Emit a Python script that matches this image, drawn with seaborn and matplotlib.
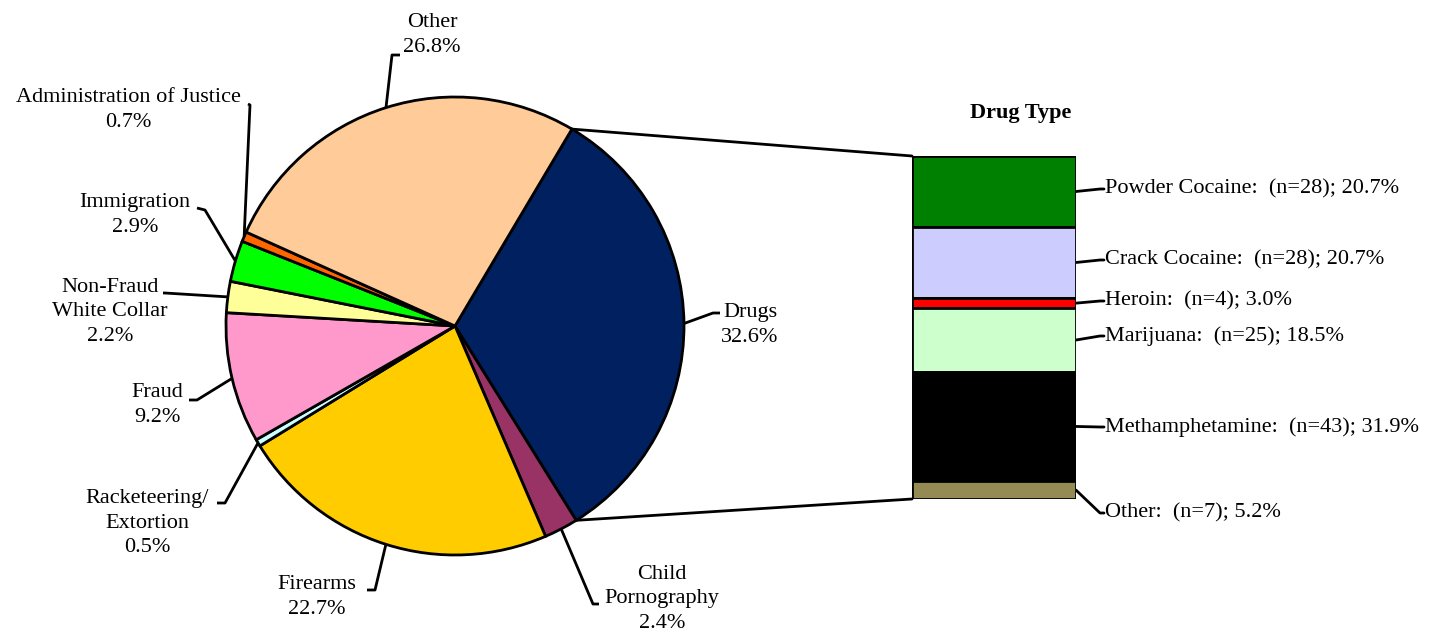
import numpy as np
import seaborn as sns
import matplotlib.pyplot as plt
from matplotlib.patches import ConnectionPatch

# offense types (clockwise from Drugs)
offense_names = ["Drugs", "Child\nPornography", "Firearms", "Racketeering/\nExtortion", "Fraud",
                 "Non-Fraud\nWhite Collar", "Immigration", "Administration of Justice", "Other"]
offense_pct = [32.6, 2.4, 22.7, 0.5, 9.2, 2.2, 2.9, 0.7, 26.8]
offense_colors = ["#002060", "#993366", "#FFCC00", "#CCFFFF", "#FF99CC",
                  "#FFFF99", "#00FF00", "#FF6600", "#FFCC99"]

# drug types (top to bottom of the bar)
drug_names = ["Powder Cocaine", "Crack Cocaine", "Heroin", "Marijuana", "Methamphetamine", "Other"]
drug_n = [28, 28, 4, 25, 43, 7]
drug_pct = [20.7, 20.7, 3.0, 18.5, 31.9, 5.2]
drug_colors = ["#008000", "#CCCCFF", "#FF0000", "#CCFFCC", "#000000", "#948A54"]

sns.set_theme(style="white")
plt.rcParams["font.family"] = ["Liberation Serif", "DejaVu Serif"]
plt.rcParams["text.color"] = "black"
FS = 16
LW = 2.0

W, H = 1445, 633
fig = plt.figure(figsize=(W / 100, H / 100), dpi=100)
ax = fig.add_axes([0, 0, 1, 1])


def Y(y):
    # image pixel row -> data y (upwards)
    return H - y


wedges, _ = ax.pie(offense_pct, colors=offense_colors, startangle=59.3, counterclock=False,
                   radius=229, center=(455, Y(326)),
                   wedgeprops=dict(edgecolor="black", linewidth=LW))
ax.set_xlim(0, W)
ax.set_ylim(0, H)
ax.set_aspect("auto")
ax.axis("off")

# label layout: text centre, elbow point, end of the short horizontal tick
label_layout = {
    "Drugs": ((750, 325), (713, 313), (720, 313)),
    "Child\nPornography": ((662, 599), (593, 604), (599, 604)),
    "Firearms": ((317, 597), (375, 590), (367, 590)),
    "Racketeering/\nExtortion": ((147, 523), (225, 503), (217, 503)),
    "Fraud": ((157, 405), (197, 400), (189, 400)),
    "Non-Fraud\nWhite Collar": ((110, 312), (165, 293), (163, 293)),
    "Immigration": ((135, 215), (205, 210), (197, 208)),
    "Administration of Justice": ((128, 110), (250, 105), (248, 104)),
    "Other": ((432, 35), (392, 55), (400, 55)),
}

for w, name, pct in zip(wedges, offense_names, offense_pct):
    mid = np.deg2rad((w.theta1 + w.theta2) / 2)
    cx, cy = w.center
    px, py = cx + w.r * np.cos(mid), cy + w.r * np.sin(mid)
    (tx, ty), (ex, ey), (hx, hy) = label_layout[name]
    ax.plot([px, ex, hx], [py, Y(ey), Y(hy)], color="black", lw=LW, solid_capstyle="butt")
    ax.text(tx, Y(ty), f"{name}\n{pct}%", ha="center", va="center", fontsize=FS,
            multialignment="center", linespacing=1.4)

# stacked bar for drug types
axb = fig.add_axes([912 / W, 1 - 499 / H, 164 / W, 343 / H])
bottom = 100.0
mids = []
for name, pct, col in zip(drug_names, drug_pct, drug_colors):
    bottom -= pct
    axb.bar(0, pct, bottom=bottom, width=1.0, color=col, edgecolor="black", linewidth=LW)
    mids.append(bottom + pct / 2)
axb.set_xlim(-0.5, 0.5)
axb.set_ylim(0, 100)
axb.axis("off")

ax.text(1021, Y(113), "Drug Type", ha="center", va="center", fontsize=FS, fontweight="bold")

drug_label_y = [189, 260, 301, 336, 427, 513]
to_main = ax.transData.inverted()
for name, n, pct, mid, ly in zip(drug_names, drug_n, drug_pct, mids, drug_label_y):
    bx, by = to_main.transform(axb.transData.transform((0.5, mid)))
    ax.plot([bx, 1100, 1104], [by, Y(ly), Y(ly)], color="black", lw=LW)
    ax.text(1105, Y(ly), f"{name}:  (n={n}); {pct}%", ha="left", va="center", fontsize=FS)

# connector lines from the Drugs wedge to the bar
dw = wedges[0]
for theta, yb in [(dw.theta2, 100), (dw.theta1, 0)]:
    t = np.deg2rad(theta)
    p = (dw.center[0] + dw.r * np.cos(t), dw.center[1] + dw.r * np.sin(t))
    con = ConnectionPatch(xyA=p, coordsA=ax.transData, xyB=(-0.5, yb), coordsB=axb.transData,
                          color="black", lw=LW)
    fig.add_artist(con)

fig.savefig("out.png", dpi=100)
